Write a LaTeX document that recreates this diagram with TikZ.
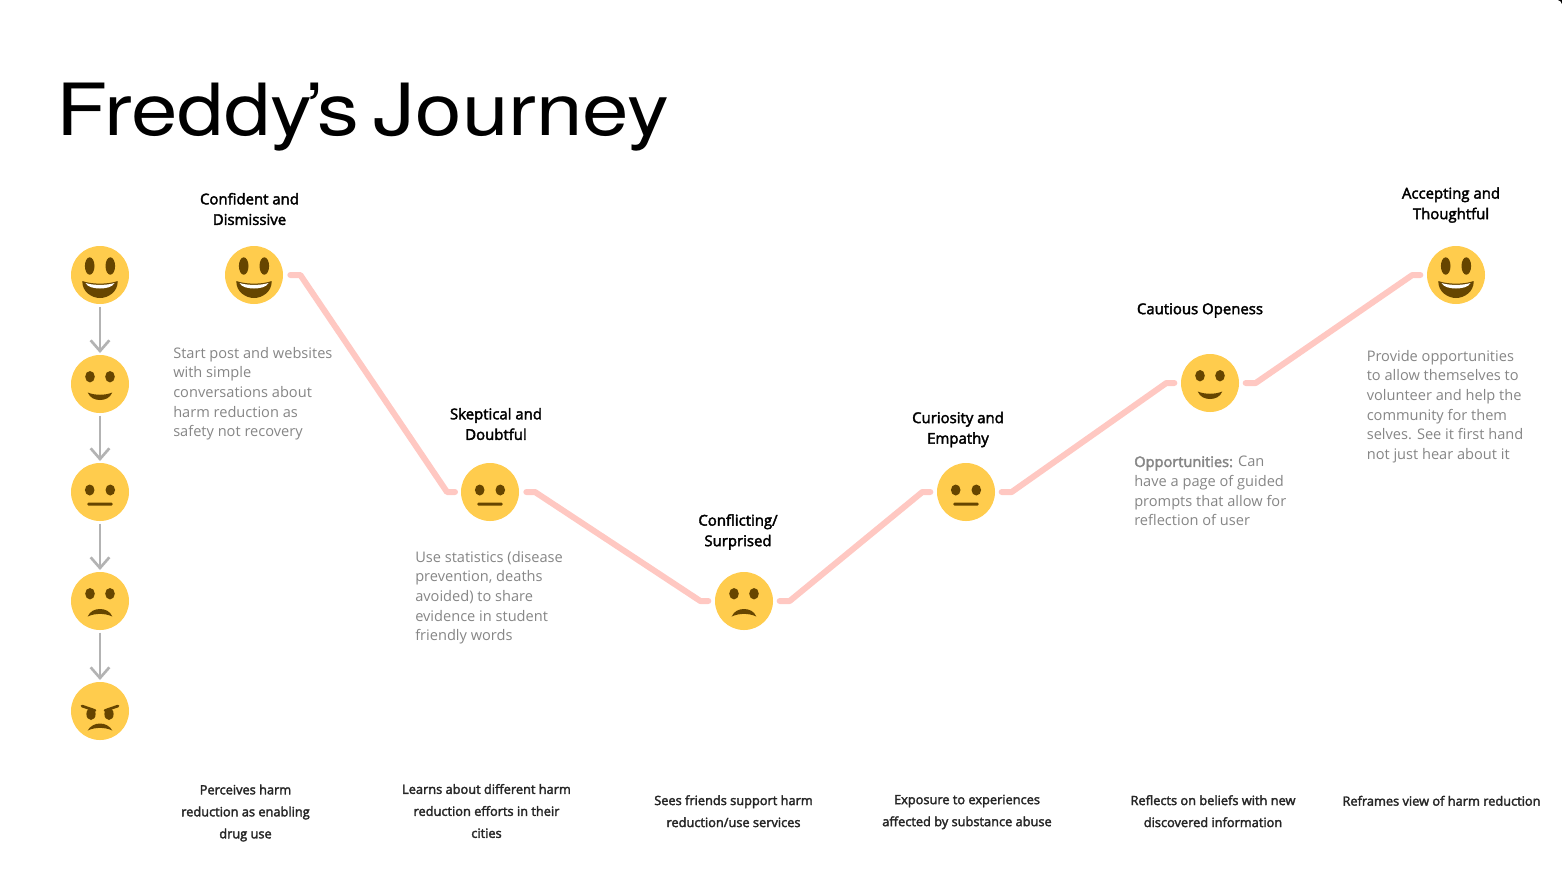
\documentclass[tikz,border=0pt]{standalone}
\usepackage{fontspec}
\setmainfont{Open Sans}
\newfontfamily\titlefont[FakeStretch=1.16]{TeX Gyre Heros}
\newfontfamily\medfont[FakeBold=2.5]{Open Sans}
\usetikzlibrary{calc,arrows.meta}
\definecolor{facey}{HTML}{FFCC4D}
\definecolor{faceb}{HTML}{664500}
\definecolor{jpink}{HTML}{FFC8C2}
\definecolor{agray}{HTML}{B3B3B3}
\definecolor{tgray}{HTML}{868686}
\tikzset{
 x=0.75pt,y=-0.75pt,
 face/.style={circle,fill=facey,minimum size=43.5pt,inner sep=0pt,outer sep=0pt},
 jline/.style={draw=jpink,line width=4.5pt,line cap=round,line join=round},
 down/.style={draw=agray,line width=2pt,-{Straight Barb[length=8pt,width=14pt,line width=2pt]}},
 head/.style={font=\medfont\fontsize{11.2pt}{15.4pt}\selectfont,align=center,text=black,inner sep=0pt},
 body/.style={font=\fontsize{10.95pt}{14.7pt}\selectfont,align=left,text=tgray,inner sep=0pt,anchor=north west},
 foot/.style={font=\medfont\fontsize{9.6pt}{16.5pt}\selectfont,align=center,text=black!85,inner sep=0pt},
 pics/grin/.style={code={
  \fill[faceb] (-10.3,-9) ellipse[x radius=4.8,y radius=8.7] (10.3,-9) ellipse[x radius=4.8,y radius=8.7];
  \fill[faceb] (-17.7,6) .. controls (-8,9.5) and (8,9.5) .. (17.7,6) .. controls (18,17) and (8,23) .. (0,23) .. controls (-8,23) and (-18,17) .. (-17.7,6) -- cycle;
  \fill[white] (-14.5,8) .. controls (-7,10.5) and (7,10.5) .. (14.5,8) .. controls (12.5,12) and (6,13.5) .. (0,13.5) .. controls (-6,13.5) and (-12.5,12) .. (-14.5,8) -- cycle;
 }},
 pics/smile/.style={code={
  \fill[faceb] (-10,-7.3) ellipse[x radius=4.8,y radius=5.7] (10,-7.3) ellipse[x radius=4.8,y radius=5.7];
  \fill[faceb] (-12.3,8.5) .. controls (-5,11.5) and (5,11.5) .. (12.3,8.5) .. controls (10,14) and (5,16) .. (0,16) .. controls (-5,16) and (-10,14) .. (-12.3,8.5) -- cycle;
 }},
 pics/neutral/.style={code={
  \fill[faceb] (-10.3,-2) ellipse[x radius=4.8,y radius=5.5] (10.3,-2) ellipse[x radius=4.8,y radius=5.5];
  \fill[faceb,rounded corners=1pt] (-12.7,10.5) rectangle (12.7,13.7);
 }},
 pics/frown/.style={code={
  \fill[faceb] (-10,-7.3) ellipse[x radius=4.8,y radius=5.7] (10,-7.3) ellipse[x radius=4.8,y radius=5.7];
  \fill[faceb] (-12.3,15.5) .. controls (-10,10) and (-5,8) .. (0,8) .. controls (5,8) and (10,10) .. (12.3,15.5) .. controls (5,12) and (-5,12) .. (-12.3,15.5) -- cycle;
 }},
 pics/angry/.style={code={
  \fill[faceb] (-9,3) ellipse[x radius=4.6,y radius=6] (9,3) ellipse[x radius=4.6,y radius=6];
  \draw[faceb,line width=2pt,line cap=round] (-18,-5) -- (-5,-0.5) (18,-5) -- (5,-0.5);
  \fill[faceb] (-12.3,19.5) .. controls (-10,15) and (-5,12.5) .. (0,12.5) .. controls (5,12.5) and (10,15) .. (12.3,19.5) .. controls (5,16) and (-5,16) .. (-12.3,19.5) -- cycle;
 }},
}
\begin{document}
\begin{tikzpicture}
\useasboundingbox (0,0) rectangle (1562,876);
\fill[white] (0,0) rectangle (1562,876);
\fill[black] (1562,0) -- (1558,0) .. controls (1560,0.5) and (1561.5,2) .. (1562,4) -- cycle;
\node[anchor=base west,inner sep=0pt,font=\titlefont\fontsize{54pt}{60pt}\selectfont] (title) at (56,135) {Freddy\kern-5pt’\kern-5pt s\kern-6.5pt\ Journey};
% scale column
\node[face] (s1) at (100,275) {}; \pic at (s1) {grin};
\node[face] (s2) at (100,384) {}; \pic at (s2) {smile};
\node[face] (s3) at (100,492) {}; \pic at (s3) {neutral};
\node[face] (s4) at (100,601) {}; \pic at (s4) {frown};
\node[face] (s5) at (100,711) {}; \pic at (s5) {angry};
\draw[down] ([yshift=-2pt]s1.south) -- ([yshift=1.5pt]s2.north);
\draw[down] ([yshift=-2pt]s2.south) -- ([yshift=1.5pt]s3.north);
\draw[down] ([yshift=-2pt]s3.south) -- ([yshift=1.5pt]s4.north);
\draw[down] ([yshift=-2pt]s4.south) -- ([yshift=1.5pt]s5.north);
% journey
\node[face] (f1) at (254,275) {}; \pic at (f1) {grin};
\node[face] (f2) at (490,492) {}; \pic at (f2) {neutral};
\node[face] (f3) at (744,601) {}; \pic at (f3) {frown};
\node[face] (f4) at (966,492) {}; \pic at (f4) {neutral};
\node[face] (f5) at (1210,383) {}; \pic at (f5) {smile};
\node[face] (f6) at (1456,275) {}; \pic at (f6) {grin};
\draw[jline] ([xshift=5.5pt]f1.east) -- ([xshift=13pt]f1.east) -- ([xshift=-10.5pt]f2.west) -- ([xshift=-4.5pt]f2.west);
\draw[jline] ([xshift=5.5pt]f2.east) -- ([xshift=12pt]f2.east) -- ([xshift=-11pt]f3.west) -- ([xshift=-5pt]f3.west);
\draw[jline] ([xshift=5pt]f3.east) -- ([xshift=12.5pt]f3.east) -- ([xshift=-11pt]f4.west) -- ([xshift=-5pt]f4.west);
\draw[jline] ([xshift=5pt]f4.east) -- ([xshift=12.5pt]f4.east) -- ([xshift=-11pt]f5.west) -- ([xshift=-5pt]f5.west);
\draw[jline] ([xshift=5pt]f5.east) -- ([xshift=12.5pt]f5.east) -- ([xshift=-11pt]f6.west) -- ([xshift=-5pt]f6.west);
% headings
\node[head] (h1) at (249.5,209) {Confident and\\Dismissive};
\node[head] (h2) at (496,424) {Skeptical and\\Doubtful};
\node[head] (h3) at (738,532) {Conflicting/\\Surprised};
\node[head] (h4) at (958,429.5) {Curiosity and\\Empathy};
\node[head] (h5) at (1200,310.5) {Cautious Openess};
\node[head] (h6) at (1451,205) {Accepting and\\Thoughtful};
% body
\node[body] (b1) at (173,347) {Start post and websites\\with simple\\conversations about\\harm reduction as\\safety not recovery};
\node[body] (b2) at (415,551) {Use statistics (disease\\prevention, deaths\\avoided) to share\\evidence in student\\friendly words};
\node[body] (b5) at (1134,456) {{\medfont Opportunities:} Can\\have a page of guided\\prompts that allow for\\reflection of user};
\node[body] (b6) at (1366.5,350) {Provide opportunities\\to allow themselves to\\volunteer and help the\\community for them\\selves. See it first hand\\not just hear about it};
% footer
\node[foot] (t1) at (245.5,813) {Perceives harm\\reduction as enabling\\drug use};
\node[foot] (t2) at (486.5,811) {Learns about different harm\\reduction efforts in their\\cities};
\node[foot] (t3) at (733.5,811.2) {Sees friends support harm\\reduction/use services};
\node[foot] (t4) at (967,812) {Exposure to experiences\\affected by substance abuse};
\node[foot] (t5) at (1213,811.2) {Reflects on beliefs with new\\discovered information};
\node[foot] (t6) at (1441.5,800.8) {Reframes view of harm reduction};
\end{tikzpicture}
\end{document}
